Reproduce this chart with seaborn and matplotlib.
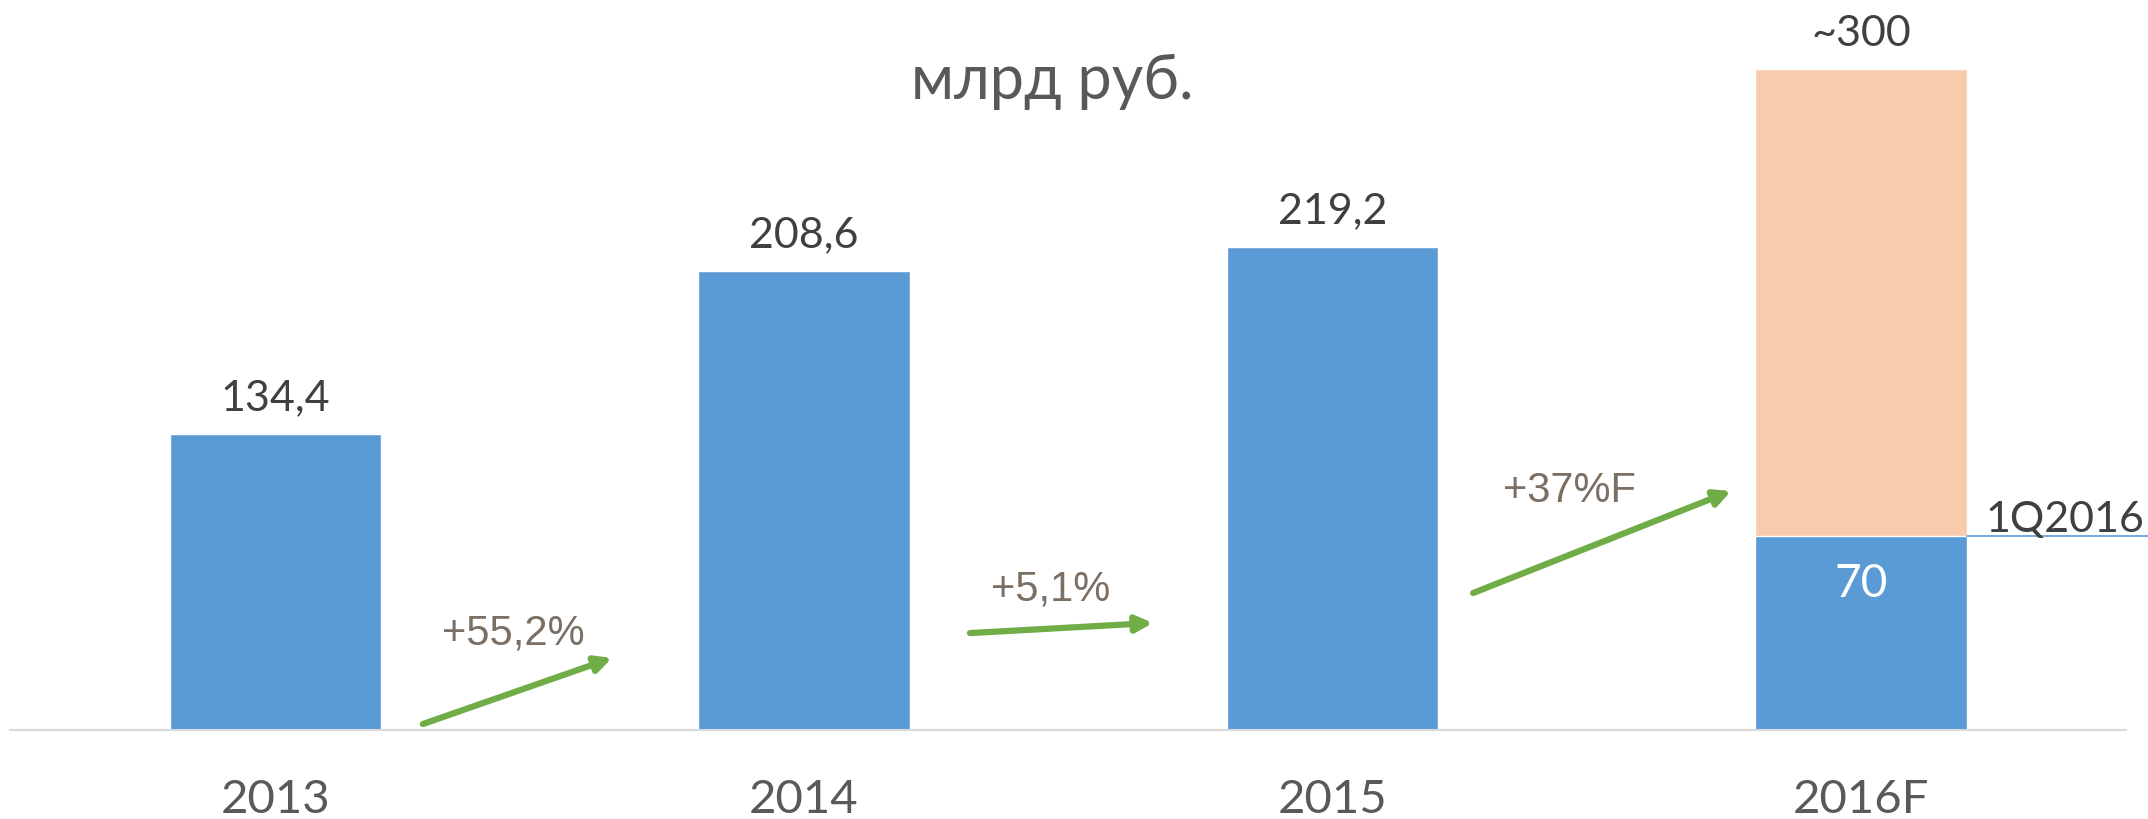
import numpy as np
import pandas as pd
import seaborn as sns
import matplotlib.pyplot as plt

# data
years = ["2013", "2014", "2015", "2016F"]
revenue = [134.4, 208.6, 219.2, np.nan]      # blue bars, bn rub
forecast_total = [np.nan, np.nan, np.nan, 300]  # orange forecast bar
value_labels = ["134,4", "208,6", "219,2", "~300"]
q1_2016_bar = 88        # drawn height of the 1Q2016 segment
q1_2016_label = "70"
growth_labels = ["+55,2%", "+5,1%", "+37%F"]
# arrows between bars: (x0, y0, x1, y1) in data units
growth_arrows = [(0.279, 2.7, 0.637, 32.7),
                 (1.314, 44.0, 1.660, 48.6),
                 (2.266, 62.2, 2.754, 108.5)]
growth_text_pos = [(0.451, 38.6), (1.466, 59.0), (2.449, 103.5)]

blue = "#5B9BD5"
orange = "#F8CBAD"
green = "#70AD47"

sns.set_theme(style="white")
plt.rcParams['font.family'] = ['Lato', 'Noto Sans', 'DejaVu Sans']

df = pd.DataFrame({"year": years, "revenue": revenue, "forecast": forecast_total})
df.loc[3, "revenue"] = q1_2016_bar

fig = plt.figure(figsize=(21.48, 8.19), dpi=100)
ax = fig.add_axes([10 / 2148, 89 / 819, 2116 / 2148, 730 / 819])

sns.barplot(data=df, x="year", y="forecast", color=orange, width=0.4,
            saturation=1, ax=ax)
sns.barplot(data=df, x="year", y="revenue", color=blue, width=0.4,
            saturation=1, ax=ax)

ax.set_xlim(-0.502, 3.501)
ax.set_ylim(0, 331.4)
ax.set_xlabel("")
ax.set_ylabel("")
ax.set_yticks([])
for s in ["top", "left", "right"]:
    ax.spines[s].set_visible(False)
ax.spines["bottom"].set_color("#D9D9D9")
ax.spines["bottom"].set_linewidth(1.5)
ax.tick_params(axis="x", length=0, pad=35, labelsize=34, labelcolor="#595959")

# value labels above bars
tops = [134.4, 208.6, 219.2, 300]
for i, (v, lab) in enumerate(zip(tops, value_labels)):
    ax.annotate(lab, (i, v), xytext=(0, 17), textcoords="offset points",
                ha="center", va="baseline", fontsize=31, color="#404040")

# 1Q2016 segment label and marker line
ax.annotate(q1_2016_label, (3, q1_2016_bar), xytext=(0, -44),
            textcoords="offset points", ha="center", va="baseline",
            fontsize=33, color="white")
ax.plot([3.2, 3.545], [q1_2016_bar, q1_2016_bar], color=blue, lw=1.2,
        clip_on=False)
ax.annotate("1Q2016", (3.535, q1_2016_bar), xytext=(0, 3),
            textcoords="offset points", ha="right", va="baseline",
            fontsize=31, color="#404040", annotation_clip=False)

# growth arrows
for (x0, y0, x1, y1), lab, (tx, ty) in zip(growth_arrows, growth_labels, growth_text_pos):
    ax.annotate("", xy=(x1, y1), xytext=(x0, y0),
                arrowprops=dict(arrowstyle="-|>,head_length=0.8,head_width=0.4",
                                color=green, lw=4.5, shrinkA=0, shrinkB=0))
    ax.text(tx, ty, lab, ha="center", va="baseline", fontsize=30,
            color="#7B6E63", family=["Liberation Sans", "DejaVu Sans"])

fig.text(1052 / 2148, 1 - 99 / 819, "млрд руб.", ha="center", va="baseline",
         fontsize=44, color="#595959")

fig.savefig("out.png", dpi=100)
